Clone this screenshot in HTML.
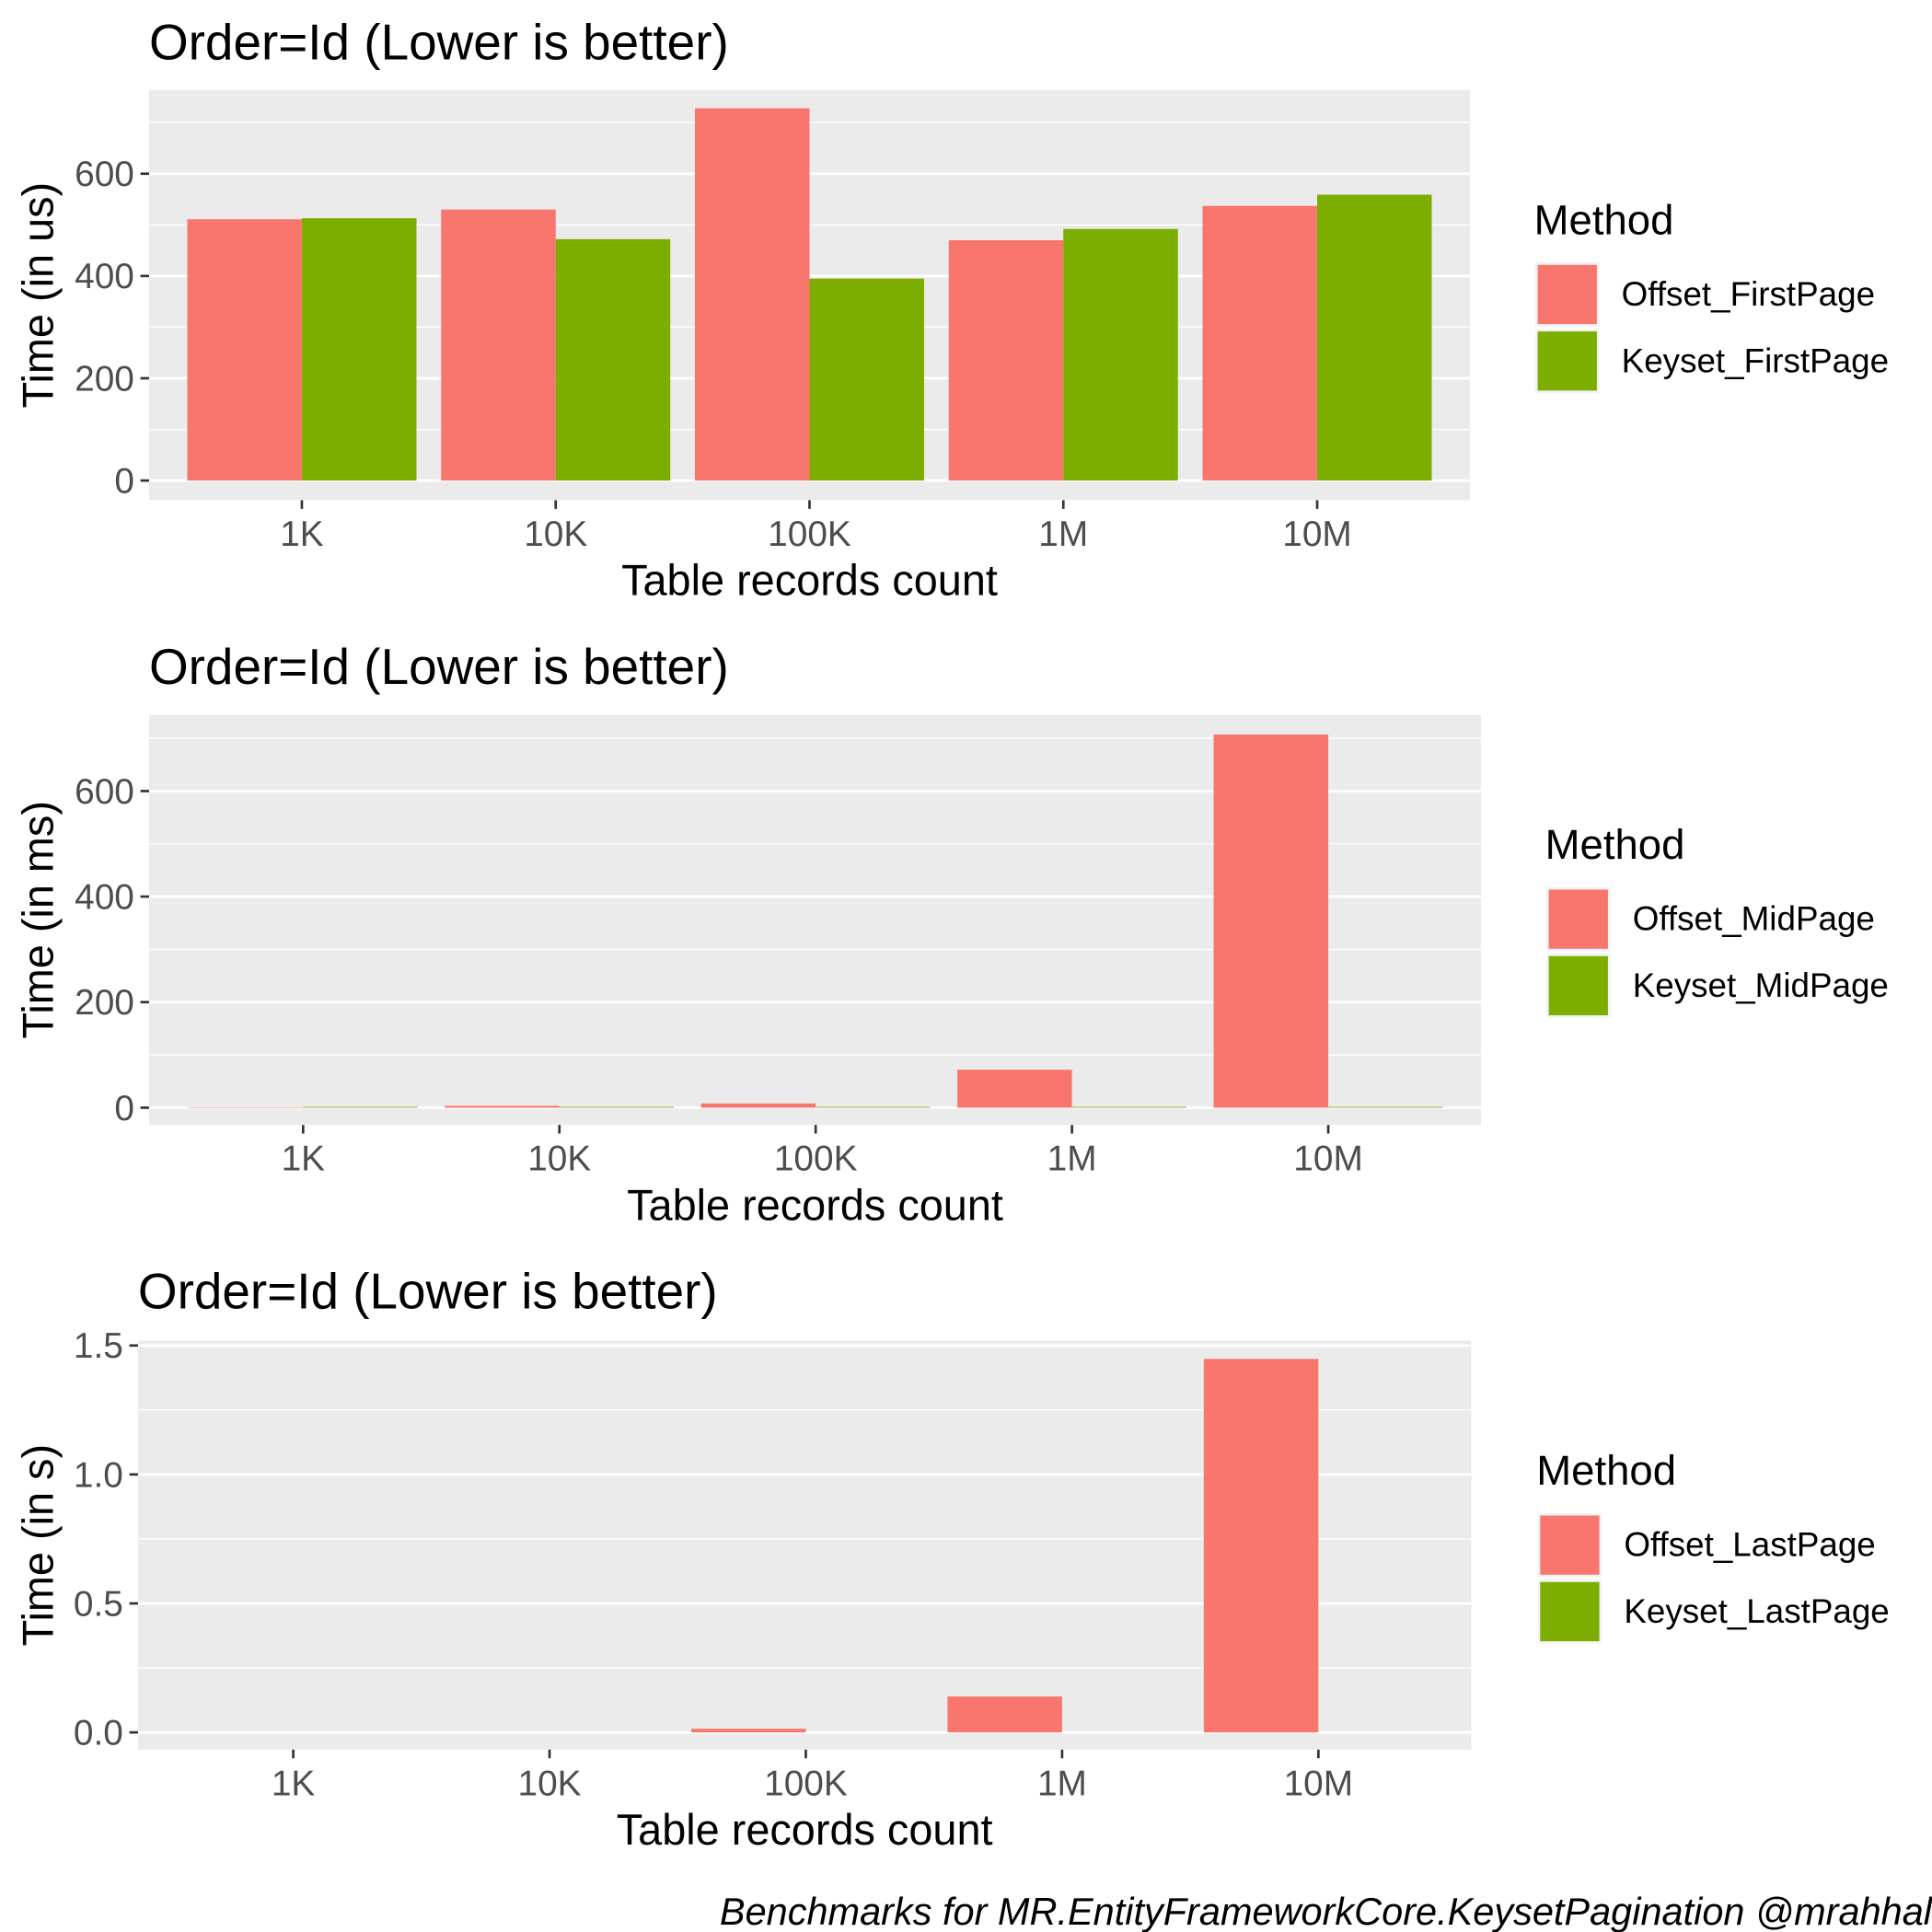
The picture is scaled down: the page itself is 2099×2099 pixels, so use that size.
<!DOCTYPE html>
<html><head><meta charset="utf-8">
<style>
html,body{margin:0;padding:0;background:#fff;}
svg{display:block;font-family:"Liberation Sans",Arial,sans-serif;}
</style></head>
<body>
<svg id="chart" width="2099" height="2099" viewBox="0 0 1568 1568" xmlns="http://www.w3.org/2000/svg"></svg>
<script>
const categories = ["1K","10K","100K","1M","10M"];
const p1Offset = [511, 530, 728, 470, 537];
const p1Keyset = [513, 472, 395, 492, 559];
const p1Ticks = [0, 200, 400, 600];
const p1Labels = ["0","200","400","600"];
const p2Offset = [1, 3.5, 8, 72, 707];
const p2Keyset = [1.5, 1.5, 1.5, 1.5, 1.5];
const p2Ticks = [0, 200, 400, 600];
const p2Labels = ["0","200","400","600"];
const p3Offset = [0, 0, 0.014, 0.139, 1.448];
const p3Keyset = [0, 0, 0, 0, 0];
const p3Ticks = [0, 0.5, 1.0, 1.5];
const p3Labels = ["0.0","0.5","1.0","1.5"];

const NS = "http://www.w3.org/2000/svg";
const svg = document.getElementById("chart");
function mk(tag, attrs, parent){
  const e = document.createElementNS(NS, tag);
  for (const k in attrs) e.setAttribute(k, attrs[k]);
  (parent||svg).appendChild(e);
  return e;
}
function txt(s, attrs, parent){ const t = mk("text", attrs, parent); t.textContent = s; return t; }

const panels = [
  {name:"first-page", off:p1Offset, key:p1Keyset, ticks:p1Ticks, labels:p1Labels,
   x0:121, x1:1193, y0:73, y1:406, zeroY:390, refVal:600, refY:141, c0:245, step:206, bw:93,
   title:"Order=Id (Lower is better)", tx:121, ty:48, ylab:"Time (in us)",
   lx:1245, ly:190, ky:213, legend:["Offset_FirstPage","Keyset_FirstPage"]},
  {name:"mid-page", off:p2Offset, key:p2Keyset, ticks:p2Ticks, labels:p2Labels,
   x0:121, x1:1202, y0:580, y1:913, zeroY:899, refVal:600, refY:642, c0:246, step:208, bw:93,
   title:"Order=Id (Lower is better)", tx:121, ty:555, ylab:"Time (in ms)",
   lx:1254, ly:697, ky:720, legend:["Offset_MidPage","Keyset_MidPage"]},
  {name:"last-page", off:p3Offset, key:p3Keyset, ticks:p3Ticks, labels:p3Labels,
   x0:112, x1:1194, y0:1088, y1:1420, zeroY:1406, refVal:1.5, refY:1092, c0:238, step:208, bw:93,
   title:"Order=Id (Lower is better)", tx:112, ty:1062, ylab:"Time (in s)",
   lx:1247, ly:1205, ky:1228, legend:["Offset_LastPage","Keyset_LastPage"]}
];

panels.forEach(p => {
  const g = mk("g", {});
  
  
  const yScale = v => p.zeroY - (v / p.refVal) * (p.zeroY - p.refY);
  const xScale = i => p.c0 + i * p.step;
  const bg = mk("rect", {x:p.x0, y:p.y0, width:p.x1-p.x0, height:p.y1-p.y0, fill:"#ebebeb"}, g);
  
  
  const stepV = p.ticks[1]-p.ticks[0];
  for (let v = p.ticks[0]-stepV/2; ; v += stepV) {
    const y = yScale(v);
    if (y < p.y0) break;
    if (y <= p.y1) mk("line", {x1:p.x0, x2:p.x1, y1:y, y2:y, stroke:"#fff", "stroke-width":1}, g);
  }
  p.ticks.forEach((v, i) => {
    const y = yScale(v);
    const gl = mk("line", {x1:p.x0, x2:p.x1, y1:y, y2:y, stroke:"#fff", "stroke-width":2}, g);
    
    
    mk("line", {x1:p.x0-7, x2:p.x0, y1:y, y2:y, stroke:"#333", "stroke-width":2}, g);
    const t = txt(p.labels[i], {x:p.x0-12, y:y+10, "text-anchor":"end", "font-size":29, fill:"#4d4d4d"}, g);
    
    
  });
  categories.forEach((c, i) => {
    const cx = xScale(i);
    const yo = yScale(p.off[i]), yk = yScale(p.key[i]);
    const b1 = mk("rect", {x:cx-p.bw, y:Math.min(yo,p.zeroY), width:p.bw, height:Math.abs(p.zeroY-yo), fill:"#f8766d"}, g);
    
    
    const b2 = mk("rect", {x:cx, y:Math.min(yk,p.zeroY), width:p.bw, height:Math.abs(p.zeroY-yk), fill:"#7cae00"}, g);
    
    
    mk("line", {x1:cx, x2:cx, y1:p.y1, y2:p.y1+7, stroke:"#333", "stroke-width":2}, g);
    const t = txt(c, {x:cx, y:p.y1+37, "text-anchor":"middle", "font-size":29, fill:"#4d4d4d"}, g);
    
    
  });
  const title = txt(p.title, {x:p.tx, y:p.ty, "font-size":41, fill:"#000"}, g);
  
  
  const xt = txt("Table records count", {x:(p.x0+p.x1)/2, y:p.y1+77, "text-anchor":"middle", "font-size":35, fill:"#000"}, g);
  
  
  const ym = (p.y0+p.y1)/2;
  const yt = txt(p.ylab, {x:0, y:0, transform:"translate(43," + ym + ") rotate(-90)", "text-anchor":"middle", "font-size":35, fill:"#000"}, g);
  
  
  const lg = mk("g", {}, g);
  
  
  const lt = txt("Method", {x:p.lx, y:p.ly, "font-size":34, fill:"#000"}, lg);
  
  
  const cols = ["#f8766d", "#7cae00"];
  p.legend.forEach((s, i) => {
    const ky = p.ky + i*54;
    mk("rect", {x:p.lx+1, y:ky, width:52, height:52, fill:"#f2f2f2"}, lg);
    const k = mk("rect", {x:p.lx+3, y:ky+2, width:48, height:48, fill:cols[i]}, lg);
    
    
    const l = txt(s, {x:p.lx+71, y:ky+35, "font-size":27.5, fill:"#000"}, lg);
    
    
  });
});
const cap = txt("Benchmarks for MR.EntityFrameworkCore.KeysetPagination @mrahhal", {x:1568, y:1562, "text-anchor":"end", "font-size":31, "font-style":"italic", fill:"#000"});


</script>
</body></html>
